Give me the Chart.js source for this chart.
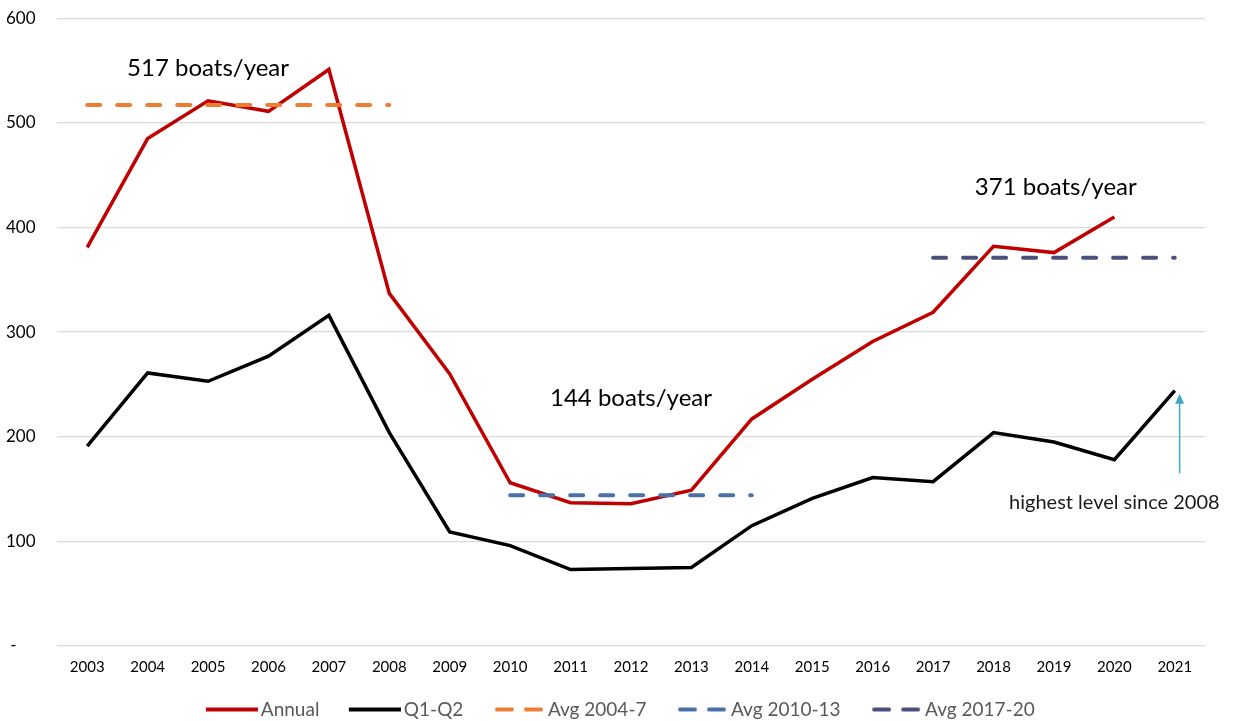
<!DOCTYPE html>
<html>
<head>
<meta charset="utf-8">
<script src="https://cdn.jsdelivr.net/npm/chart.js@4/dist/chart.umd.min.js"></script>
<style>
  html, body { margin: 0; padding: 0; background: #ffffff; }
  #wrap { width: 1233px; height: 721px; position: relative; }
</style>
</head>
<body>
<div id="wrap"><canvas id="c" width="1233" height="721"></canvas></div>
<script>
// ---- data ----
const years = ['2003','2004','2005','2006','2007','2008','2009','2010','2011','2012','2013','2014','2015','2016','2017','2018','2019','2020','2021'];
const annual = [381, 485, 521, 511, 551, 337, 260, 156, 137, 136, 149, 217, 255, 291, 319, 382, 376, 410, null];
const q1q2   = [191, 261, 253, 277, 316, 204, 109, 96, 73, 74, 75, 115, 141, 161, 157, 204, 195, 178, 244];
const avg2004_7  = [517, 517, 517, 517, 517, 517, null, null, null, null, null, null, null, null, null, null, null, null, null];
const avg2010_13 = [null, null, null, null, null, null, null, 144, 144, 144, 144, 144, null, null, null, null, null, null, null];
const avg2017_20 = [null, null, null, null, null, null, null, null, null, null, null, null, null, null, 371, 371, 371, 371, 371];
const yTicks = [0, 100, 200, 300, 400, 500, 600];
const seriesNames = ['Annual', 'Q1-Q2', 'Avg 2004-7', 'Avg 2010-13', 'Avg 2017-20'];
// annotations anchored in data space: [category index, value, text]
const notes = [
  [2.0, 552, '517 boats/year'],
  [9.0, 237, '144 boats/year'],
  [16.03, 438, '371 boats/year'],
];
const noteSmall = [17.0, 137, 'highest level since 2008'];
const arrowNote = [18.08, 165, 241];

const FONT = 'Lato, "Open Sans", sans-serif';
const colors = ['#C00000', '#000000', '#ED7D31', '#4A70AA', '#4B4F7C'];
const dashed = [false, false, true, true, true];
const LEG_MARGIN = 36;
const SAMPLE_W = 52;

function legendSample(color, isDashed) {
  const cv = document.createElement('canvas');
  cv.width = SAMPLE_W + LEG_MARGIN; cv.height = 8;
  const g = cv.getContext('2d');
  g.strokeStyle = color;
  g.lineWidth = 4;
  g.lineCap = 'round';
  g.beginPath();
  const o = LEG_MARGIN;
  if (isDashed) {
    g.moveTo(o + 4, 4); g.lineTo(o + 19, 4);
    g.moveTo(o + 33, 4); g.lineTo(o + 48, 4);
  } else {
    g.lineCap = 'butt';
    g.moveTo(o, 4); g.lineTo(o + SAMPLE_W, 4);
  }
  g.stroke();
  return cv;
}

const datasetValues = [annual, q1q2, avg2004_7, avg2010_13, avg2017_20];
const datasets = datasetValues.map((vals, i) => ({
  label: seriesNames[i],
  data: vals,
  borderColor: colors[i],
  backgroundColor: colors[i],
  borderWidth: dashed[i] ? 4 : 3.5,
  borderDash: dashed[i] ? [13, 17] : [],
  borderCapStyle: dashed[i] ? 'round' : 'butt',
  borderJoinStyle: 'miter',
  pointRadius: 0,
  pointHoverRadius: 0,
  tension: 0,
  spanGaps: false,
  fill: false,
  order: dashed[i] ? 0 : 1,
}));

const annotPlugin = {
  id: 'annot',
  afterLayout(chart) {
    // nudge the legend row down to sit near the bottom edge
    if (chart.legend) {
      chart.legend.top += 8;
      chart.legend.bottom += 8;
    }
  },
  afterDatasetsDraw(chart) {
    const ctx = chart.ctx;
    const xs = chart.scales.x, ys = chart.scales.y;
    ctx.save();
    ctx.fillStyle = '#000000';
    ctx.textAlign = 'center';
    ctx.textBaseline = 'middle';
    ctx.font = '24px ' + FONT;
    notes.forEach(n => {
      ctx.fillText(n[2], xs.getPixelForValue(n[0]), ys.getPixelForValue(n[1]));
    });
    ctx.font = '20px ' + FONT;
    ctx.fillStyle = '#1a1a1a';
    ctx.fillText(noteSmall[2], xs.getPixelForValue(noteSmall[0]), ys.getPixelForValue(noteSmall[1]));
    // arrow
    const ax = xs.getPixelForValue(arrowNote[0]);
    const y0 = ys.getPixelForValue(arrowNote[1]);
    const y1 = ys.getPixelForValue(arrowNote[2]);
    ctx.strokeStyle = '#3FA9C5';
    ctx.fillStyle = '#3FA9C5';
    ctx.lineWidth = 1.5;
    ctx.beginPath();
    ctx.moveTo(ax, y0);
    ctx.lineTo(ax, y1 + 8);
    ctx.stroke();
    ctx.beginPath();
    ctx.moveTo(ax, y1);
    ctx.lineTo(ax - 4.5, y1 + 10);
    ctx.lineTo(ax + 4.5, y1 + 10);
    ctx.closePath();
    ctx.fill();
    ctx.restore();
  }
};

new Chart(document.getElementById('c'), {
  type: 'line',
  data: { labels: years, datasets },
  options: {
    responsive: false,
    animation: false,
    events: [],
    layout: { padding: { left: 6, right: 28, top: 8, bottom: 0 } },
    plugins: {
      tooltip: { enabled: false },
      title: { display: false },
      legend: {
        display: true,
        position: 'bottom',
        labels: {
          usePointStyle: true,
          pointStyleWidth: SAMPLE_W + LEG_MARGIN - 13,
          boxHeight: 8,
          padding: 0,
          color: '#595959',
          font: { family: FONT, size: 19 },
          generateLabels(chart) {
            return chart.data.datasets.map((ds, i) => ({
              text: ds.label,
              datasetIndex: i,
              pointStyle: legendSample(colors[i], dashed[i]),
              fillStyle: colors[i],
              strokeStyle: colors[i],
              lineWidth: 0,
              hidden: false,
              fontColor: '#595959',
            }));
          }
        }
      }
    },
    scales: {
      x: {
        type: 'category',
        offset: true,
        grid: { display: false, drawTicks: false },
        border: { display: false },
        afterFit(scale) { scale.height = 46; },
        ticks: {
          color: '#000000',
          font: { family: FONT, size: 15 },
          padding: 12,
          maxRotation: 0,
          autoSkip: false,
        }
      },
      y: {
        min: 0,
        max: 600,
        afterBuildTicks(scale) { scale.ticks = yTicks.map(v => ({ value: v })); },
        afterFit(scale) { scale.width = 51; },
        grid: { color: '#D9D9D9', lineWidth: 1.3, drawTicks: false },
        border: { display: false },
        ticks: {
          color: '#000000',
          font: { family: FONT, size: 17 },
          crossAlign: 'far',
          padding: 8,
          callback: (v) => v === 0 ? ' -' : String(v),
        }
      }
    }
  },
  plugins: [annotPlugin]
});
</script>
</body>
</html>
